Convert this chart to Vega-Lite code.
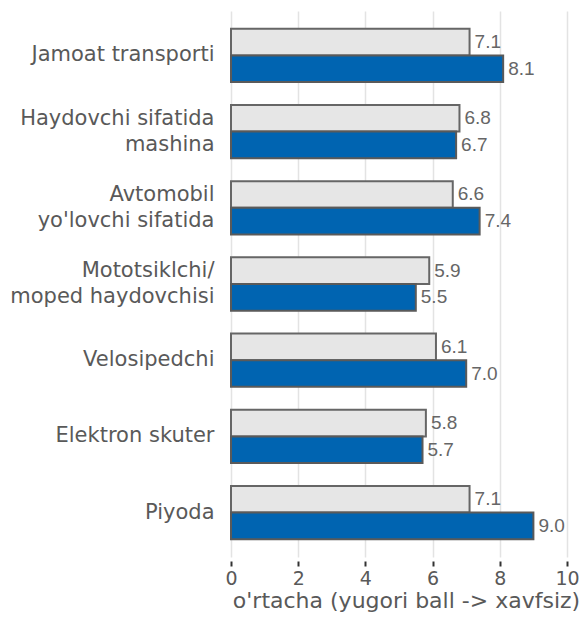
{
  "$schema": "https://vega.github.io/schema/vega-lite/v6.json",
  "autosize": "none",
  "padding": {"left": 231, "top": 11, "right": 17, "bottom": 62},
  "width": 336,
  "height": 546,
  "background": "white",
  "config": {"view": {"stroke": null}},
  "data": {
    "values": [
      {"cat": "Jamoat transporti", "s": "A", "v": 7.1},
      {"cat": "Jamoat transporti", "s": "B", "v": 8.1},
      {"cat": "Haydovchi sifatida |mashina", "s": "A", "v": 6.8},
      {"cat": "Haydovchi sifatida |mashina", "s": "B", "v": 6.7},
      {"cat": "Avtomobil |yo'lovchi sifatida", "s": "A", "v": 6.6},
      {"cat": "Avtomobil |yo'lovchi sifatida", "s": "B", "v": 7.4},
      {"cat": "Mototsiklchi/ |moped haydovchisi", "s": "A", "v": 5.9},
      {"cat": "Mototsiklchi/ |moped haydovchisi", "s": "B", "v": 5.5},
      {"cat": "Velosipedchi", "s": "A", "v": 6.1},
      {"cat": "Velosipedchi", "s": "B", "v": 7.0},
      {"cat": "Elektron skuter", "s": "A", "v": 5.8},
      {"cat": "Elektron skuter", "s": "B", "v": 5.7},
      {"cat": "Piyoda", "s": "A", "v": 7.1},
      {"cat": "Piyoda", "s": "B", "v": 9.0}
    ]
  },
  "encoding": {
    "y": {
      "field": "cat", "type": "nominal", "sort": null,
      "scale": {"paddingInner": 0.3, "paddingOuter": 0.233},
      "axis": {
        "title": null, "domain": false, "ticks": false, "grid": false,
        "labelExpr": "split(datum.label, '|')",
        "labelOffset": {"condition": {"test": "indexof(datum.value, '|') >= 0", "value": -13}, "value": 0},
        "labelFont": "DejaVu Sans", "labelFontSize": 21, "labelColor": "#595959",
        "labelPadding": 17, "labelLineHeight": 26, "labelLimit": 260
      }
    },
    "yOffset": {"field": "s", "type": "nominal", "scale": {"paddingInner": 0, "paddingOuter": 0}},
    "x": {
      "field": "v", "type": "quantitative",
      "scale": {"domain": [0, 10], "nice": false},
      "axis": {
        "values": [0, 2, 4, 6, 8, 10],
        "title": "o'rtacha (yugori ball -> xavfsiz)",
        "domain": false, "grid": true, "gridColor": "#e3e3e3", "gridWidth": 1.5,
        "ticks": true, "tickColor": "#333333", "tickWidth": 2, "tickSize": 5, "offset": 4,
        "labelFlush": false,
        "labelFont": "DejaVu Sans", "labelFontSize": 19, "labelColor": "#595959", "labelPadding": 3,
        "titleFont": "DejaVu Sans", "titleFontSize": 22, "titleFontWeight": "normal", "titleColor": "#595959", "titlePadding": 2,
        "titleX": 175
      }
    }
  },
  "layer": [
    {
      "mark": {"type": "bar", "strokeWidth": 2},
      "encoding": {
        "color": {"field": "s", "type": "nominal", "legend": null,
          "scale": {"domain": ["A", "B"], "range": ["#e6e6e6", "#0064b1"]}},
        "stroke": {"field": "s", "type": "nominal", "legend": null,
          "scale": {"domain": ["A", "B"], "range": ["#666666", "#5a5a5a"]}}
      }
    },
    {
      "mark": {"type": "text", "align": "left", "baseline": "middle", "dx": 5, "font": "Liberation Sans", "fontSize": 19, "fill": "#666666"},
      "encoding": {"text": {"field": "v", "type": "quantitative", "format": ".1f"}}
    }
  ]
}
